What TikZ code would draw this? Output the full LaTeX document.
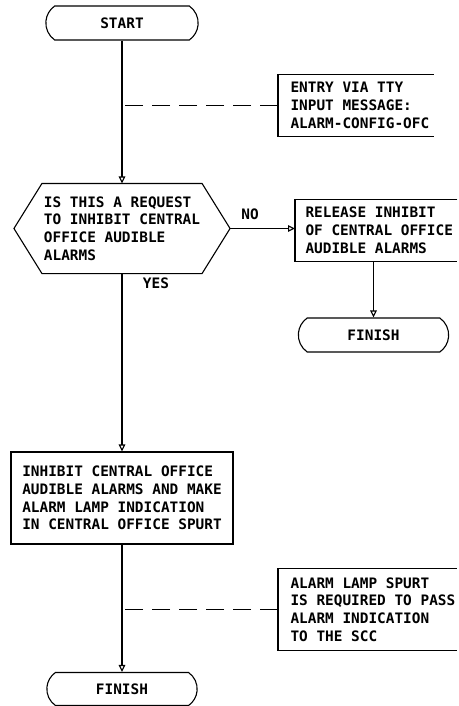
\documentclass[tikz,border=0pt]{standalone}
\usepackage{fontspec}
\setmonofont{DejaVu Sans Mono}
\usetikzlibrary{shapes.misc,arrows.meta}

\tikzset{
  chart/.style={x=1pt, y=-1pt, line width=1.1pt, font=\ttfamily\bfseries\fontsize{14.4}{17.8}\selectfont},
  term/.style={rounded rectangle, rounded rectangle arc length=110, draw, minimum width=159pt, minimum height=34pt},
  procbox/.style={rectangle, align=left, inner xsep=10pt},
  notebox/.style={rectangle, align=left, inner xsep=12pt, anchor=west},
  flow/.style={-{Triangle[open,length=7pt,width=6.5pt]}},
  tie/.style={dash pattern=on 18pt off 9pt}
}

\begin{document}
\begin{tikzpicture}[chart]
  \useasboundingbox (0,0) rectangle (458,706);
  \node[term] (start) at (122,23) {START};
  \node[notebox, minimum height=61pt] (entry) at (278,105.5) {ENTRY VIA TTY\\INPUT MESSAGE:\\ALARM-CONFIG-OFC};
  \node[procbox, minimum width=215pt, minimum height=89pt] (ask) at (122,228.5) {IS THIS A REQUEST\\TO INHIBIT CENTRAL\\OFFICE AUDIBLE\\ALARMS};
  \node[procbox, anchor=west, minimum height=61pt] (release) at (295,230.5) {RELEASE INHIBIT\\OF CENTRAL OFFICE\\AUDIBLE ALARMS};
  \node[term, minimum width=157pt] (finish1) at (373.5,335) {FINISH};
  \node[procbox, draw, minimum width=222pt, minimum height=92pt] (inhibit) at (122,498) {INHIBIT CENTRAL OFFICE\\AUDIBLE ALARMS AND MAKE\\ALARM LAMP INDICATION\\IN CENTRAL OFFICE SPURT};
  \node[notebox, minimum height=81pt] (spurt) at (278,609.5) {ALARM LAMP SPURT\\IS REQUIRED TO PASS\\ALARM INDICATION\\TO THE SCC};
  \node[term, minimum width=157pt, minimum height=33pt] (finish2) at (122,689) {FINISH};
  \node (no) at (250,214) {NO};
  \node (yes) at (156,283) {YES};

  \draw ([xshift=28pt]ask.north west) -- ([xshift=-28pt]ask.north east) -- (ask.east)
    -- ([xshift=-28pt]ask.south east) -- ([xshift=28pt]ask.south west) -- (ask.west) -- cycle;
  \draw ([xshift=-8pt]entry.north east) -- (entry.north west) -- (entry.south west) -- ([xshift=-8pt]entry.south east);
  \draw ([xshift=-6pt]release.north east) -- (release.north west) -- (release.south west) -- ([xshift=-6pt]release.south east);
  \draw ([xshift=-11pt]spurt.north east) -- (spurt.north west) -- (spurt.south west) -- ([xshift=-11pt]spurt.south east);

  \draw[flow] (start.south) -- (ask.north);
  \draw[flow] (ask.east) -- (ask.east -| release.west);
  \draw[flow] (finish1.north |- release.south) -- (finish1.north);
  \draw[flow] (ask.south) -- (inhibit.north);
  \draw[flow] (inhibit.south) -- (finish2.north);
  \draw[tie] (entry.west) -- (entry.west -| start.south);
  \draw[tie] (spurt.west) -- (spurt.west -| inhibit.south);
\end{tikzpicture}
\end{document}
